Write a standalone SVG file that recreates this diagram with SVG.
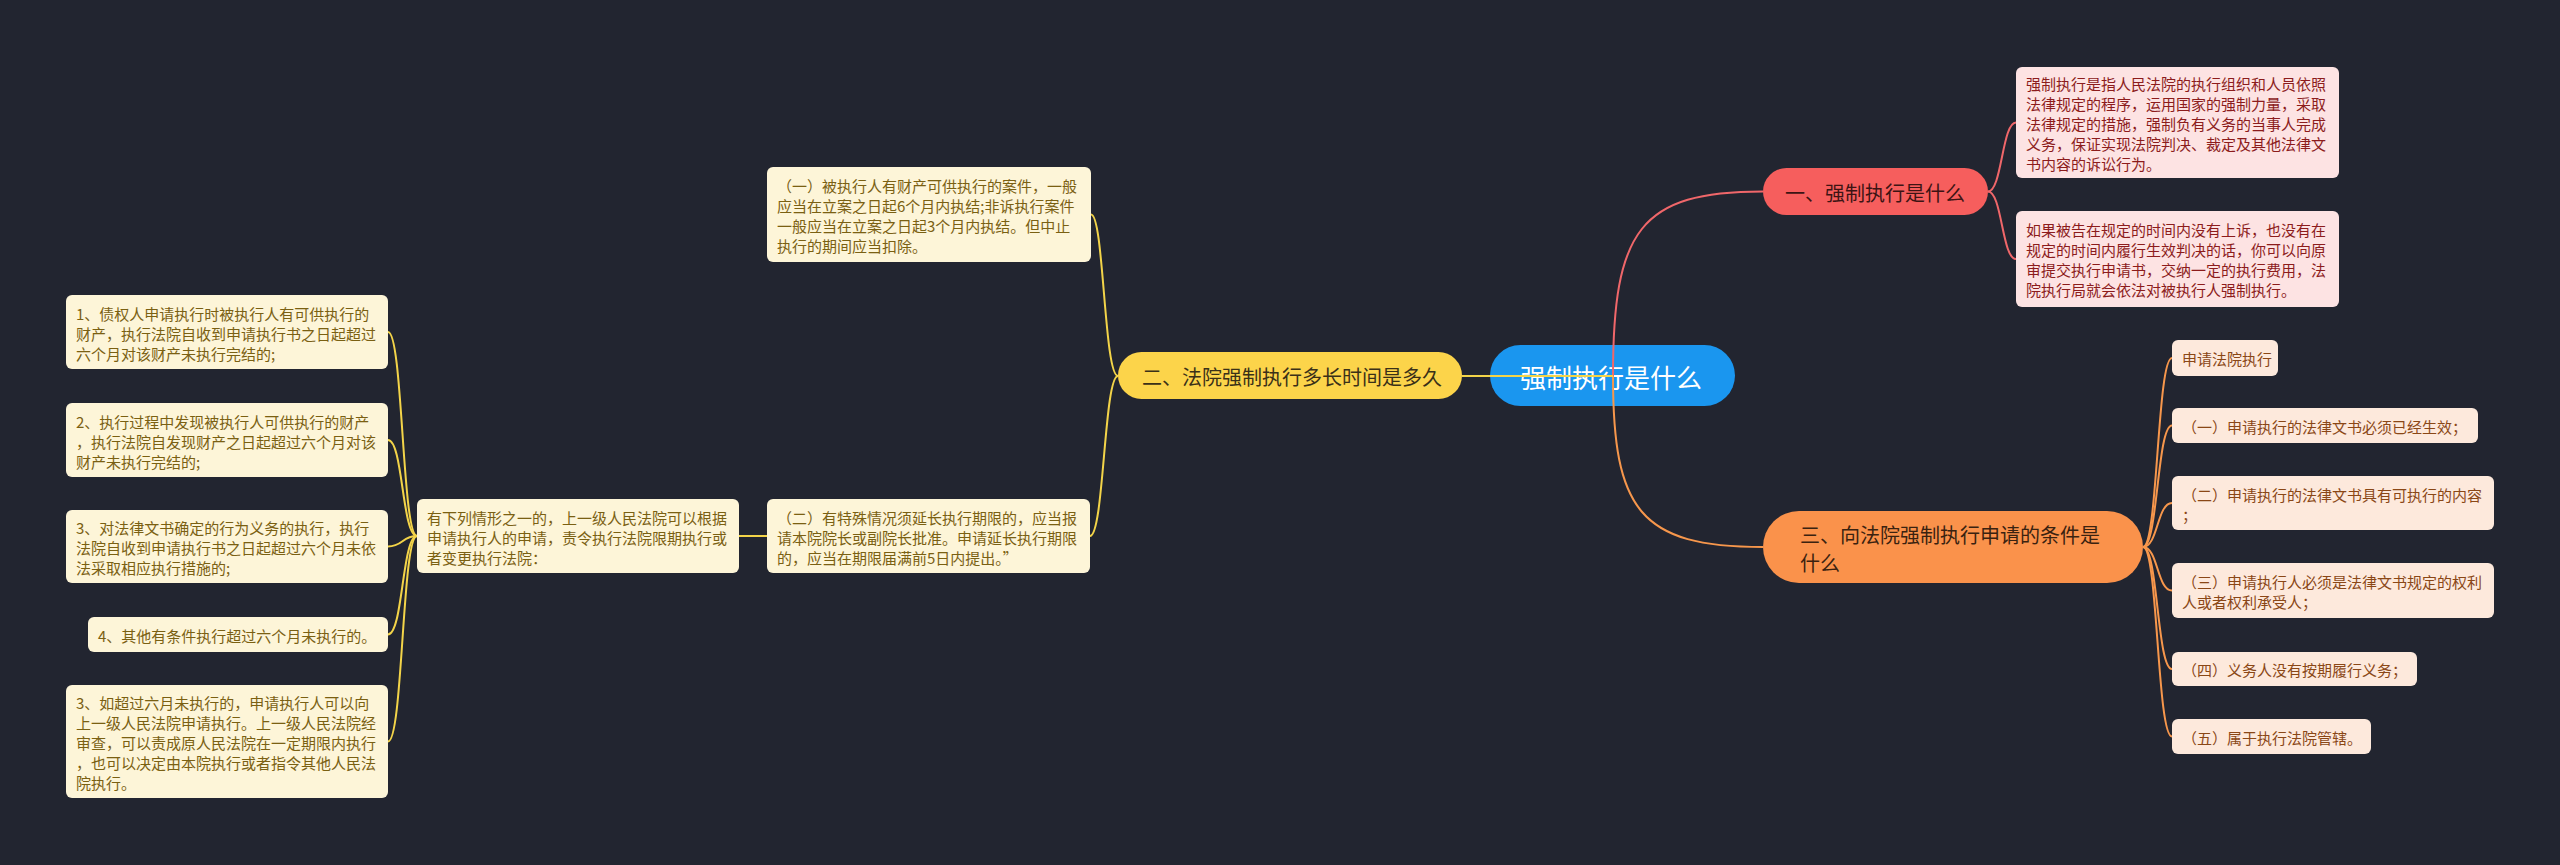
<svg xmlns="http://www.w3.org/2000/svg" width="2560" height="865" viewBox="0 0 2560 865">
<style>
text{font-family:"Noto Sans CJK SC","Noto Sans",sans-serif;dominant-baseline:central}
.bg{fill:#222530}
.root rect{fill:#1a96ef}
.root text{fill:#ffffff;font-size:26px}
.main text{font-size:20px}
.leaf text{font-size:15px}
.r rect{fill:#f65e5d}
.r text{fill:#3d1414}
.o rect{fill:#fa924b}
.o text{fill:#3a2210}
.y rect{fill:#fcd44a}
.y text{fill:#3a3018}
.lr rect{fill:#fde3e3}
.lr text{fill:#8c1c1c}
.lo rect{fill:#fde9dc}
.lo text{fill:#8a4716}
.ly rect{fill:#fdf5d8}
.ly text{fill:#7a6012}
.c{fill:none;stroke-width:2}
.cr{stroke:#f0676a}
.co{stroke:#f7974c}
.cy{stroke:#f3d449}
</style>
<rect class="bg" x="0" y="0" width="2560" height="865"/>

<g id="root" class="root">
<rect x="1490" y="345" width="245" height="61" rx="30.5"/>
<text x="1520" y="376">强制执行是什么</text>
</g>

<g id="connectors">
<path class="c cr" stroke-width="2.5" d="M1613,376 C1613,230 1640,191.5 1763,191.5"/>
<path class="c co" stroke-width="2.5" d="M1613,376 C1613,510 1640,547 1763,547"/>
<path class="c cy" d="M1613,376 L1462,376"/>
<path class="c cr" d="M1988,191.5 C2002,191.5 2002,122.5 2016,122.5"/>
<path class="c cr" d="M1988,191.5 C2002,191.5 2002,259 2016,259"/>
<path class="c co" d="M2143,547 C2158,547 2157,358 2172,358"/>
<path class="c co" d="M2143,547 C2158,547 2157,425.5 2172,425.5"/>
<path class="c co" d="M2143,547 C2158,547 2157,503 2172,503"/>
<path class="c co" d="M2143,547 C2158,547 2157,590.5 2172,590.5"/>
<path class="c co" d="M2143,547 C2158,547 2157,669 2172,669"/>
<path class="c co" d="M2143,547 C2158,547 2157,736.5 2172,736.5"/>
<path class="c cy" d="M1118,376 C1104,376 1104,214.5 1091,214.5"/>
<path class="c cy" d="M1118,376 C1104,376 1104,536 1090,536"/>
<path class="c cy" d="M767,536 L739,536"/>
<path class="c cy" d="M417,536 C402,536 403,332 388,332"/>
<path class="c cy" d="M417,536 C402,536 403,440 388,440"/>
<path class="c cy" d="M417,536 C402,536 403,546.5 388,546.5"/>
<path class="c cy" d="M417,536 C402,536 403,634.5 388,634.5"/>
<path class="c cy" d="M417,536 C402,536 403,741.5 388,741.5"/>
</g>

<g id="n1" class="main r">
<rect x="1763" y="168" width="225" height="47" rx="23.5"/>
<text x="1785" y="192">一、强制执行是什么</text>
</g>
<g id="n1a" class="leaf lr">
<rect x="2016" y="67" width="323" height="111" rx="6"/>
<text x="2026" y="83">强制执行是指人民法院的执行组织和人员依照</text>
<text x="2026" y="103">法律规定的程序，运用国家的强制力量，采取</text>
<text x="2026" y="123">法律规定的措施，强制负有义务的当事人完成</text>
<text x="2026" y="143">义务，保证实现法院判决、裁定及其他法律文</text>
<text x="2026" y="163">书内容的诉讼行为。</text>
</g>
<g id="n1b" class="leaf lr">
<rect x="2016" y="211" width="323" height="96" rx="6"/>
<text x="2026" y="229">如果被告在规定的时间内没有上诉，也没有在</text>
<text x="2026" y="249">规定的时间内履行生效判决的话，你可以向原</text>
<text x="2026" y="269">审提交执行申请书，交纳一定的执行费用，法</text>
<text x="2026" y="289">院执行局就会依法对被执行人强制执行。</text>
</g>

<g id="n3" class="main o">
<rect x="1763" y="511" width="380" height="72" rx="36"/>
<text x="1800" y="534">三、向法院强制执行申请的条件是</text>
<text x="1800" y="562">什么</text>
</g>
<g id="n3a" class="leaf lo">
<rect x="2172" y="340" width="106" height="36" rx="6"/>
<text x="2182" y="358">申请法院执行</text>
</g>
<g id="n3b" class="leaf lo">
<rect x="2172" y="408" width="306" height="35" rx="6"/>
<text x="2182" y="426">（一）申请执行的法律文书必须已经生效；</text>
</g>
<g id="n3c" class="leaf lo">
<rect x="2172" y="476" width="322" height="54" rx="6"/>
<text x="2182" y="494">（二）申请执行的法律文书具有可执行的内容</text>
<text x="2182" y="514">；</text>
</g>
<g id="n3d" class="leaf lo">
<rect x="2172" y="563" width="322" height="55" rx="6"/>
<text x="2182" y="581">（三）申请执行人必须是法律文书规定的权利</text>
<text x="2182" y="601">人或者权利承受人；</text>
</g>
<g id="n3e" class="leaf lo">
<rect x="2172" y="652" width="245" height="34" rx="6"/>
<text x="2182" y="669">（四）义务人没有按期履行义务；</text>
</g>
<g id="n3f" class="leaf lo">
<rect x="2172" y="719" width="199" height="35" rx="6"/>
<text x="2182" y="737">（五）属于执行法院管辖。</text>
</g>

<g id="n2" class="main y">
<rect x="1118" y="352" width="344" height="47" rx="23.5"/>
<text x="1142" y="376">二、法院强制执行多长时间是多久</text>
</g>
<g id="n2a" class="leaf ly">
<rect x="767" y="167" width="324" height="95" rx="6"/>
<text x="777" y="185">（一）被执行人有财产可供执行的案件，一般</text>
<text x="777" y="205">应当在立案之日起6个月内执结;非诉执行案件</text>
<text x="777" y="225">一般应当在立案之日起3个月内执结。但中止</text>
<text x="777" y="245">执行的期间应当扣除。</text>
</g>
<g id="n2b" class="leaf ly">
<rect x="767" y="499" width="323" height="74" rx="6"/>
<text x="777" y="517">（二）有特殊情况须延长执行期限的，应当报</text>
<text x="777" y="537">请本院院长或副院长批准。申请延长执行期限</text>
<text x="777" y="557">的，应当在期限届满前5日内提出。”</text>
</g>
<g id="n2c" class="leaf ly">
<rect x="417" y="499" width="322" height="74" rx="6"/>
<text x="427" y="517">有下列情形之一的，上一级人民法院可以根据</text>
<text x="427" y="537">申请执行人的申请，责令执行法院限期执行或</text>
<text x="427" y="557">者变更执行法院：</text>
</g>
<g id="c1" class="leaf ly">
<rect x="66" y="295" width="322" height="74" rx="6"/>
<text x="76" y="313">1、债权人申请执行时被执行人有可供执行的</text>
<text x="76" y="333">财产，执行法院自收到申请执行书之日起超过</text>
<text x="76" y="353">六个月对该财产未执行完结的;</text>
</g>
<g id="c2" class="leaf ly">
<rect x="66" y="403" width="322" height="74" rx="6"/>
<text x="76" y="421">2、执行过程中发现被执行人可供执行的财产</text>
<text x="76" y="441">，执行法院自发现财产之日起超过六个月对该</text>
<text x="76" y="461">财产未执行完结的;</text>
</g>
<g id="c3" class="leaf ly">
<rect x="66" y="510" width="322" height="73" rx="6"/>
<text x="76" y="527">3、对法律文书确定的行为义务的执行，执行</text>
<text x="76" y="547">法院自收到申请执行书之日起超过六个月未依</text>
<text x="76" y="567">法采取相应执行措施的;</text>
</g>
<g id="c4" class="leaf ly">
<rect x="88" y="617" width="300" height="35" rx="6"/>
<text x="98" y="635">4、其他有条件执行超过六个月未执行的。</text>
</g>
<g id="c5" class="leaf ly">
<rect x="66" y="685" width="322" height="113" rx="6"/>
<text x="76" y="702">3、如超过六月未执行的，申请执行人可以向</text>
<text x="76" y="722">上一级人民法院申请执行。上一级人民法院经</text>
<text x="76" y="742">审查，可以责成原人民法院在一定期限内执行</text>
<text x="76" y="762">，也可以决定由本院执行或者指令其他人民法</text>
<text x="76" y="782">院执行。</text>
</g>
</svg>
